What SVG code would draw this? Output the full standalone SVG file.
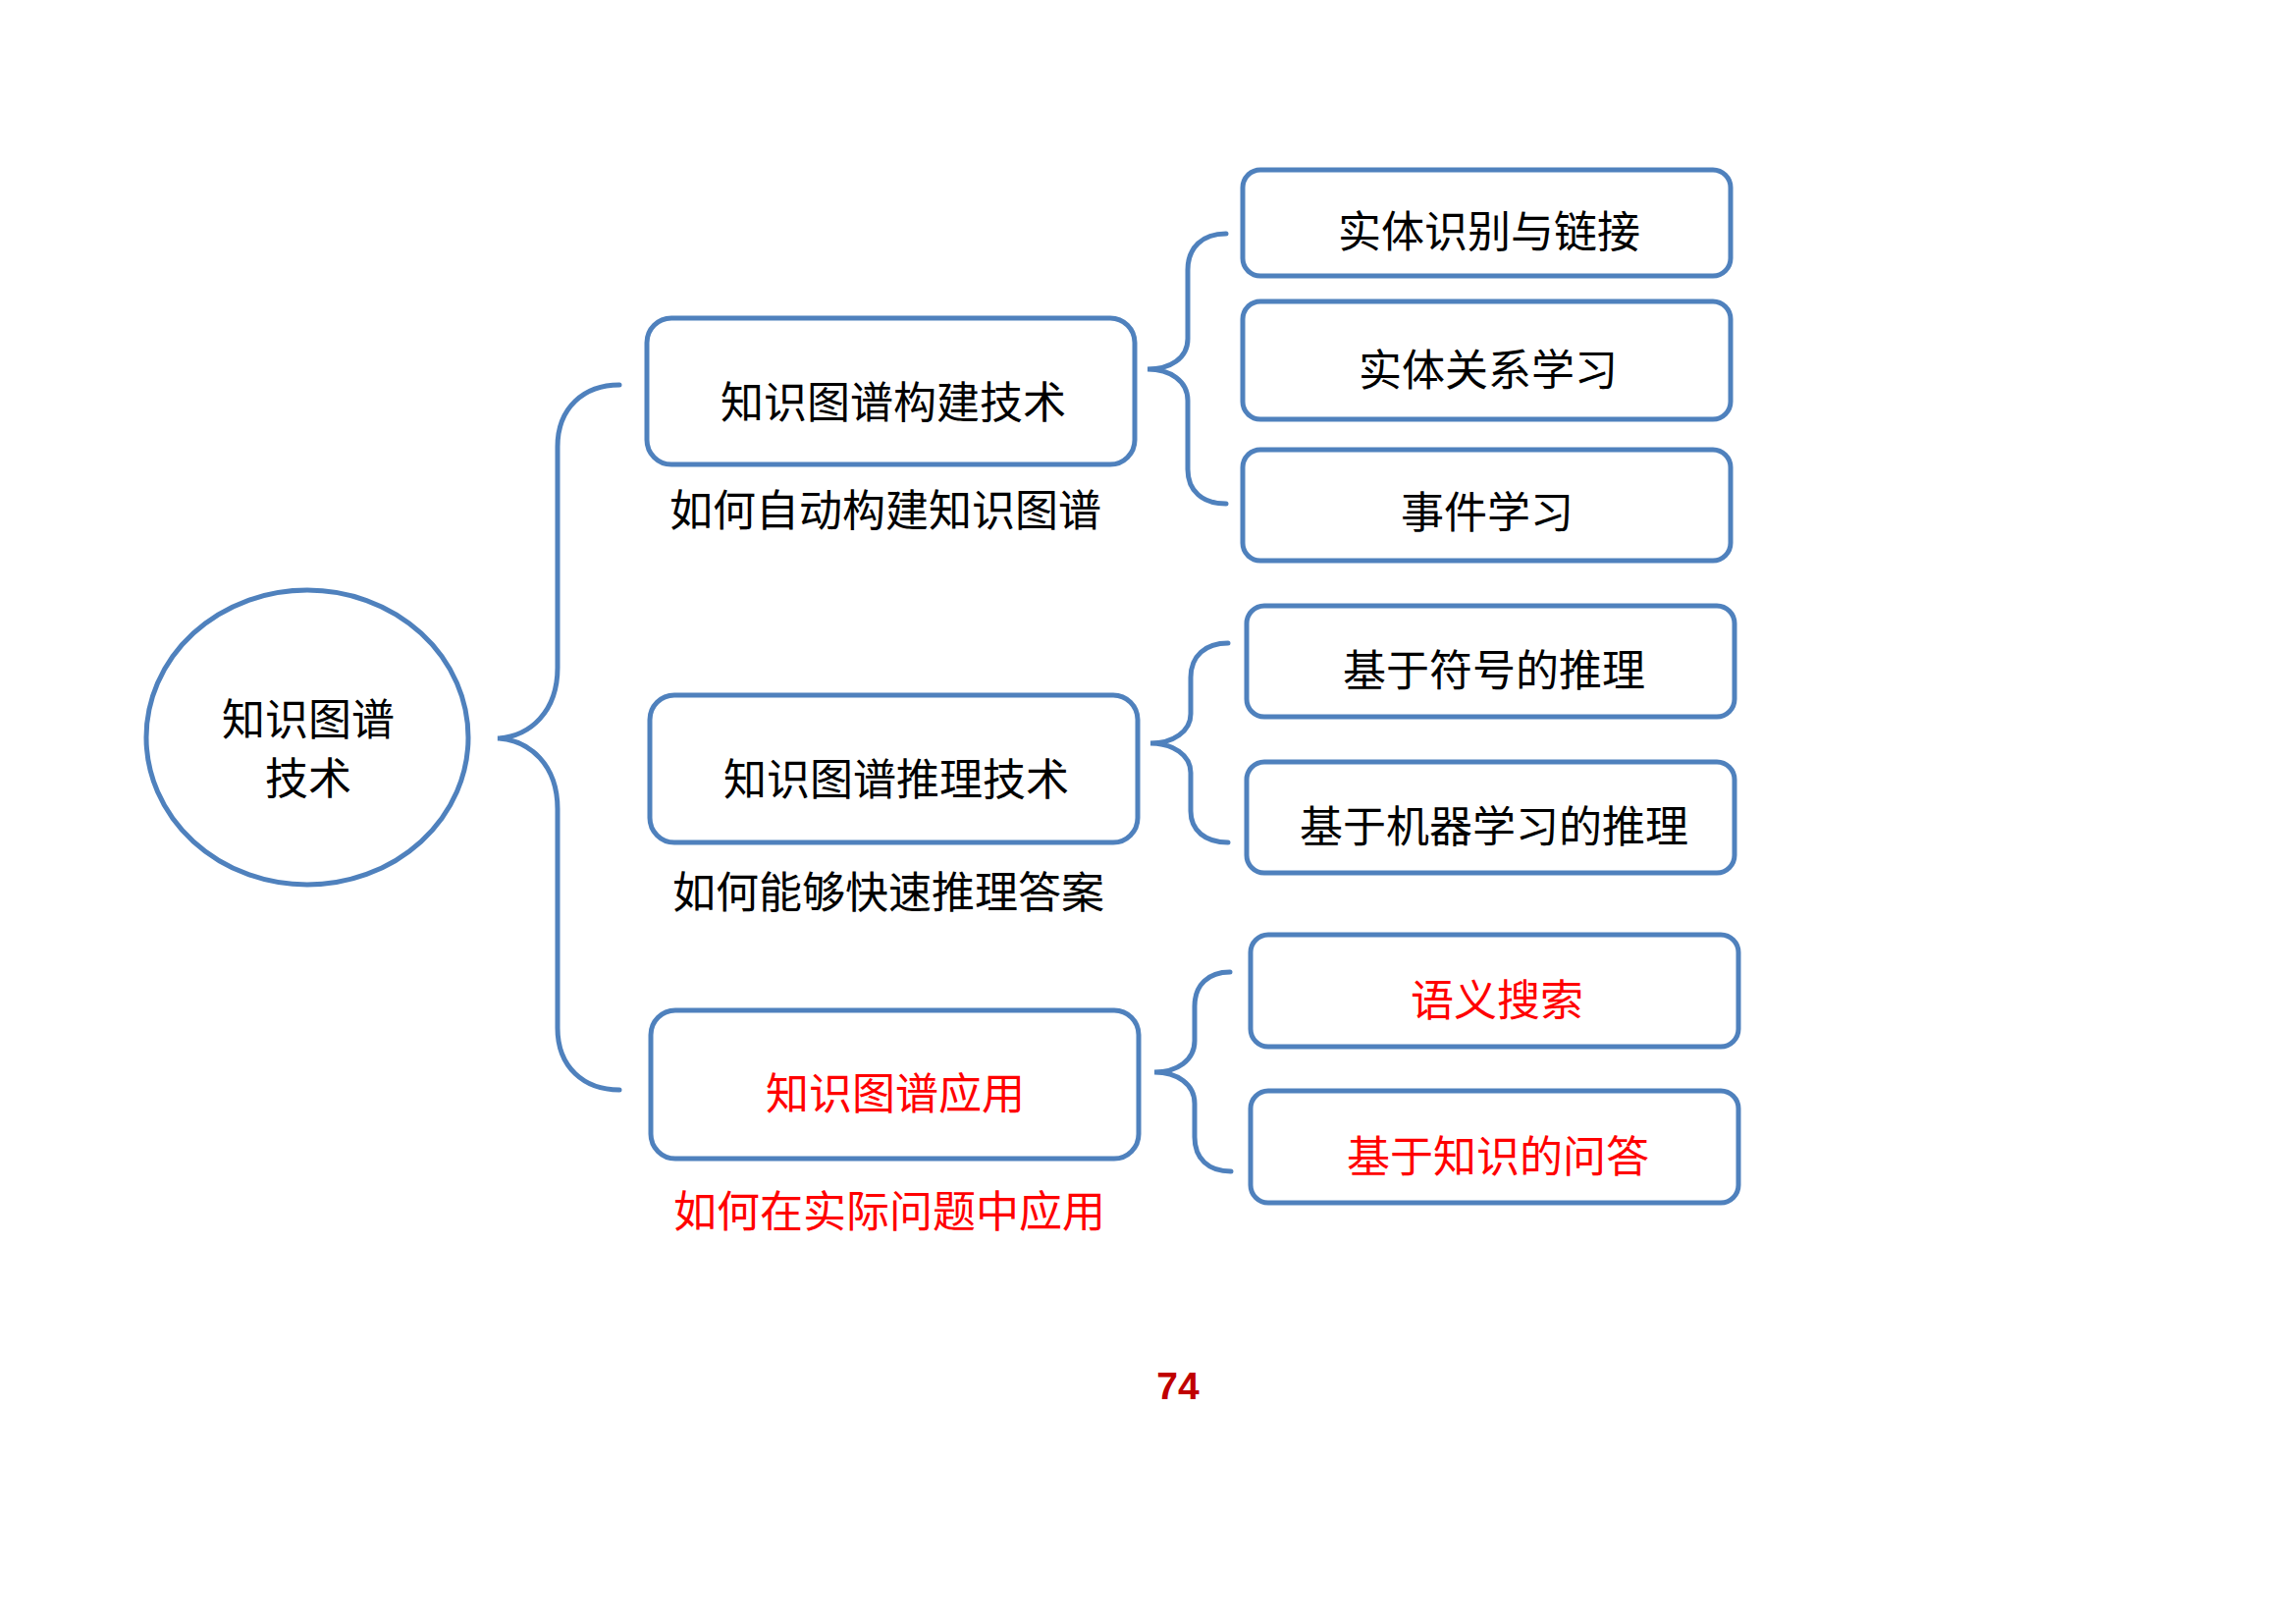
<svg xmlns="http://www.w3.org/2000/svg" width="2339" height="1654" viewBox="0 0 2339 1654">
<style>
.shape{fill:#ffffff;stroke:#4F81BD;stroke-width:5}
.brace{fill:none;stroke:#4F81BD;stroke-width:5;stroke-linecap:round}
.t{font-family:"Noto Sans CJK SC","Noto Sans CJK JP",sans-serif;font-size:44px;fill:#000000;text-anchor:middle;dominant-baseline:central}
.red{fill:#FF0000}
.num{font-family:"Liberation Sans",Arial,sans-serif;font-size:39px;font-weight:bold;fill:#C00000;text-anchor:middle}
</style>
<rect width="2339" height="1654" fill="#ffffff"/>
<g id="connectors">
<path class="brace" d="M631,392 C595,392 568,415 568,455 L568,680 C568,725 540,750 507,752 C540,754 568,779 568,824 L568,1047 C568,1087 595,1110 631,1110"/>
<path class="brace" d="M1249,238 C1225,238 1210,252 1210,275 L1210,345 C1210,365 1192,376 1169,376 C1192,376 1210,388 1210,408 L1210,478 C1210,500 1225,513 1249,513"/>
<path class="brace" d="M1251,655 C1228,655 1213,668 1213,690 L1213,727 C1213,745 1195,757 1172,757 C1195,757 1213,769 1213,787 L1213,826 C1213,846 1228,858 1251,858"/>
<path class="brace" d="M1253,990 C1231,990 1217,1003 1217,1025 L1217,1060 C1217,1080 1199,1092 1176,1092 C1199,1092 1217,1104 1217,1124 L1217,1158 C1217,1180 1231,1193 1254,1193"/>
</g>
<g id="root">
<ellipse class="shape" cx="313" cy="751" rx="164" ry="150"/>
<text class="t" x="314" y="730">知识图谱</text>
<text class="t" x="314" y="790">技术</text>
</g>
<g id="build">
<rect class="shape" x="659" y="324" width="497" height="149" rx="25" ry="25"/>
<text class="t" x="910" y="407">知识图谱构建技术</text>
<text class="t" x="902" y="517">如何自动构建知识图谱</text>
</g>
<g id="reason">
<rect class="shape" x="662" y="708" width="497" height="150" rx="25" ry="25"/>
<text class="t" x="913" y="791">知识图谱推理技术</text>
<text class="t" x="905" y="906">如何能够快速推理答案</text>
</g>
<g id="apply">
<rect class="shape" x="663" y="1029" width="497" height="151" rx="25" ry="25"/>
<text class="t red" x="912" y="1111">知识图谱应用</text>
<text class="t red" x="906" y="1231">如何在实际问题中应用</text>
</g>
<g id="r1">
<rect class="shape" x="1266" y="173" width="497" height="108" rx="18" ry="18"/>
<text class="t" x="1517" y="233">实体识别与链接</text>
</g>
<g id="r2">
<rect class="shape" x="1266" y="307" width="497" height="120" rx="18" ry="18"/>
<text class="t" x="1516" y="374">实体关系学习</text>
</g>
<g id="r3">
<rect class="shape" x="1266" y="458" width="497" height="113" rx="18" ry="18"/>
<text class="t" x="1515" y="519">事件学习</text>
</g>
<g id="r4">
<rect class="shape" x="1270" y="617" width="497" height="113" rx="18" ry="18"/>
<text class="t" x="1522" y="680">基于符号的推理</text>
</g>
<g id="r5">
<rect class="shape" x="1270" y="776" width="497" height="113" rx="18" ry="18"/>
<text class="t" x="1522" y="839">基于机器学习的推理</text>
</g>
<g id="r6">
<rect class="shape" x="1274" y="952" width="497" height="114" rx="18" ry="18"/>
<text class="t red" x="1525" y="1016">语义搜索</text>
</g>
<g id="r7">
<rect class="shape" x="1274" y="1111" width="497" height="114" rx="18" ry="18"/>
<text class="t red" x="1526" y="1175">基于知识的问答</text>
</g>
<text class="num" x="1200" y="1425">74</text>
</svg>
